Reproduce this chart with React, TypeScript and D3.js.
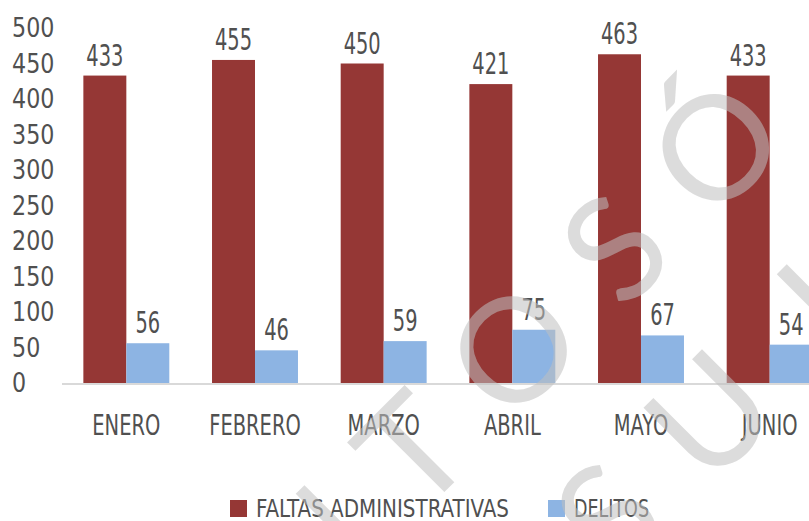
import React from 'react';
import * as d3 from 'd3';

// Monthly counts
const MONTHS = ['ENERO', 'FEBRERO', 'MARZO', 'ABRIL', 'MAYO', 'JUNIO'];
const FALTAS = [433, 455, 450, 421, 463, 433];
const DELITOS = [56, 46, 59, 75, 67, 54];
const SERIES = ['FALTAS ADMINISTRATIVAS', 'DELITOS'];
const Y_TICKS = [0, 50, 100, 150, 200, 250, 300, 350, 400, 450, 500];

// watermark letters (only the visible part of the stamp)
const WATERMARK_ROWS = [
  {letters: ['N', 'T', 'O', 'S', 'Ó'], offset: 610, start: -170},
  {letters: ['S', 'U', 'J'], offset: 795, start: 65},
];

const W = 809;
const H = 521;
const COLORS = ['#953735', '#8db4e3'];
const TEXT = '#505050';
const FONT = "'Liberation Sans Narrow', 'Arial Narrow', 'DejaVu Sans Condensed', sans-serif";

const Squeezed: React.FC<{
  x: number;
  y: number;
  size: number;
  sx: number;
  anchor?: string;
  children: React.ReactNode;
}> = ({x, y, size, sx, anchor = 'middle', children}) => (
  <text
    transform={`translate(${x},${y}) scale(${sx},1)`}
    fontSize={size}
    fontFamily={FONT}
    fill={TEXT}
    textAnchor={anchor}>
    {children}
  </text>
);

export default function App() {
  const y = d3.scaleLinear().domain([0, 500]).range([383, 28]);
  const x0 = d3
    .scaleBand<string>()
    .domain(MONTHS)
    .range([62, 834])
    .paddingInner(0.332)
    .paddingOuter(0.166);
  const x1 = d3.scaleBand<string>().domain(SERIES).range([0, x0.bandwidth()]);

  const rows = MONTHS.map((m, i) => ({month: m, values: [FALTAS[i], DELITOS[i]]}));
  const advance = 143;

  return (
    <svg
      width={W}
      height={H}
      style={{position: 'absolute', left: 0, top: 0, background: '#fff'}}>
      <rect width={W} height={H} fill="#fff" />

      {/* y tick labels */}
      {Y_TICKS.map((t) => (
        <Squeezed key={t} x={12} y={y(t) + 9} size={26} sx={0.95} anchor="start">
          {t}
        </Squeezed>
      ))}

      {/* baseline */}
      <line x1={62} x2={W} y1={y(0) + 1} y2={y(0) + 1} stroke="#d9d9d9" strokeWidth={2} />

      {/* bars */}
      {rows.map((r) => (
        <g key={r.month} transform={`translate(${x0(r.month)},0)`}>
          {r.values.map((v, j) => (
            <rect
              key={j}
              x={x1(SERIES[j])}
              y={y(v)}
              width={x1.bandwidth()}
              height={y(0) - y(v)}
              fill={COLORS[j]}
            />
          ))}
          {r.values.map((v, j) => (
            <Squeezed
              key={'l' + j}
              x={(x1(SERIES[j]) || 0) + x1.bandwidth() / 2}
              y={y(v) - 10}
              size={30}
              sx={0.72}>
              {v}
            </Squeezed>
          ))}
          <Squeezed x={x0.bandwidth() / 2} y={435} size={28.5} sx={0.76}>
            {r.month}
          </Squeezed>
        </g>
      ))}

      {/* legend */}
      {SERIES.map((s, j) => {
        const lx = j === 0 ? 230 : 548;
        return (
          <g key={s}>
            <rect x={lx} y={500} width={17} height={17} fill={COLORS[j]} />
            <text
              x={lx + 26}
              y={517}
              fontSize={24.5}
              fontFamily={FONT}
              fill={TEXT}
              textLength={j === 0 ? 253 : 75}
              lengthAdjust="spacingAndGlyphs">
              {s}
            </text>
          </g>
        );
      })}

      {/* diagonal watermark */}
      <g
        fill="#bfbfbf"
        fillOpacity={0.55}
        fontFamily="Lato, 'Open Sans', sans-serif"
        fontWeight={400}
        fontSize={145}>
        {WATERMARK_ROWS.map((row, ri) =>
          row.letters.map((ch, k) => {
            const s = row.start + k * advance;
            const cx = (s + row.offset) / Math.SQRT2;
            const cy = (row.offset - s) / Math.SQRT2;
            return (
              <text
                key={ri + '-' + k}
                transform={`translate(${cx},${cy}) rotate(-45)`}
                textAnchor="middle"
                dy="0.36em">
                {ch}
              </text>
            );
          }),
        )}
      </g>
    </svg>
  );
}
